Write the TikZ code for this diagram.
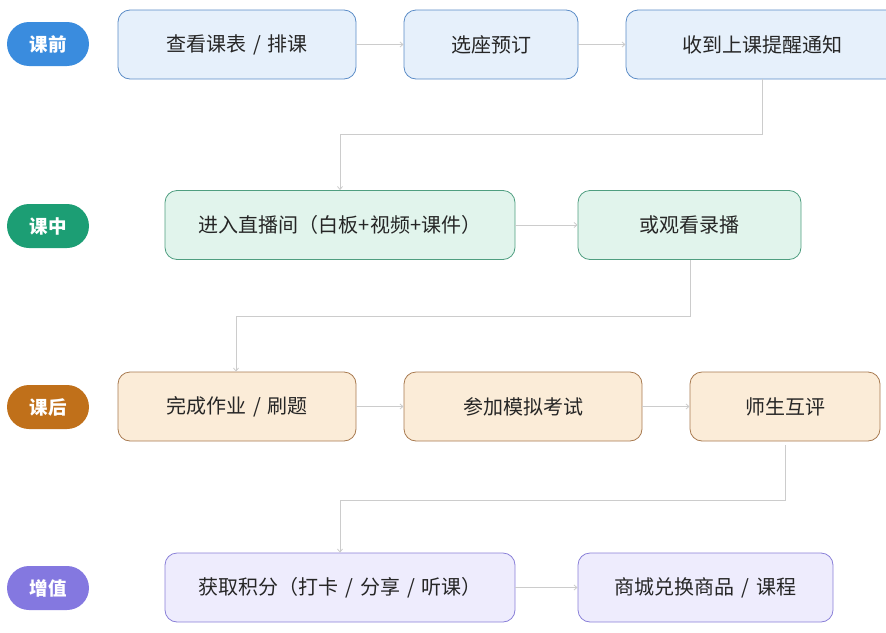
\documentclass[tikz,border=0pt]{standalone}
\usepackage{fontspec}
\setmainfont{Noto Sans CJK SC}
\usetikzlibrary{arrows.meta}
\definecolor{bluep}{HTML}{3A8CDE}
\definecolor{bluef}{HTML}{E6F0FB}
\definecolor{blueb}{HTML}{5B8CC7}
\definecolor{greenp}{HTML}{1C9E74}
\definecolor{greenf}{HTML}{E1F4EC}
\definecolor{greenb}{HTML}{4F9E80}
\definecolor{orangep}{HTML}{C0701A}
\definecolor{orangef}{HTML}{FBECD8}
\definecolor{orangeb}{HTML}{A87A50}
\definecolor{purplep}{HTML}{8478E0}
\definecolor{purplef}{HTML}{EEECFD}
\definecolor{purpleb}{HTML}{8A80D8}
\definecolor{conn}{HTML}{CCCCCC}
\definecolor{txt}{HTML}{262626}
\newcommand{\myslash}{\hspace{0.35em}/\hspace{0.35em}}
\begin{document}
\begin{tikzpicture}[x=1pt,y=-1pt,
  pill/.style={rounded corners=22pt,minimum width=82pt,minimum height=44pt,inner sep=0pt,text=white,font=\fontsize{18.5}{22}\selectfont\bfseries},
  box/.style={rounded corners=12pt,minimum height=69pt,inner sep=0pt,text=txt,line width=0.8pt,font=\fontsize{20}{24}\selectfont},
  bbox/.style={box,fill=bluef,draw=blueb},
  gbox/.style={box,fill=greenf,draw=greenb},
  obox/.style={box,fill=orangef,draw=orangeb},
  pbox/.style={box,fill=purplef,draw=purpleb},
  arr/.style={draw=conn,line width=0.8pt,-{Straight Barb[length=3pt,width=5pt]}}
]
\useasboundingbox (0,0) rectangle (886,632);
\begin{scope}
\clip (0,0) rectangle (886,632);
% pills
\node[pill,fill=bluep] (p1) at (48,44) {课前};
\node[pill,fill=greenp] (p2) at (48,226) {课中};
\node[pill,fill=orangep] (p3) at (48,407) {课后};
\node[pill,fill=purplep] (p4) at (48,588) {增值};
% row 1
\node[bbox,minimum width=238pt] (a1) at (237,44.5) {查看课表\myslash 排课};
\node[bbox,minimum width=174pt] (a2) at (491,44.5) {选座预订};
\node[bbox,minimum width=272pt] (a3) at (762,44.5) {收到上课提醒通知};
% row 2
\node[gbox,minimum width=350pt] (b1) at (340,225) {进入直播间（白板+视频+课件）};
\node[gbox,minimum width=223pt] (b2) at (689.5,225) {或观看录播};
% row 3
\node[obox,minimum width=238pt] (c1) at (237,406.5) {完成作业\myslash 刷题};
\node[obox,minimum width=238pt] (c2) at (523,406.5) {参加模拟考试};
\node[obox,minimum width=190pt] (c3) at (785,406.5) {师生互评};
% row 4
\node[pbox,minimum width=350pt] (d1) at (340,587.5) {获取积分（打卡\myslash 分享\myslash 听课）};
\node[pbox,minimum width=255pt] (d2) at (705.5,587.5) {商城兑换商品\myslash 课程};
% connectors
\draw[arr] (a1) -- (a2);
\draw[arr] (a2) -- (a3);
\draw[arr] (a3.south) -- (762,134) -- (340,134) -- (b1.north);
\draw[arr] (b2.south -| 690,0) -- (690,316) -- (236,316) -- (c1.north -| 236,0);
\draw[arr] (b1) -- (b2);
\draw[arr] (c1) -- (c2);
\draw[arr] (c2) -- (c3);
\draw[arr] ([yshift=-4pt]c3.south) -- (785,500) -- (340,500) -- (d1.north);
\draw[arr] (d1) -- (d2);
\end{scope}
\end{tikzpicture}
\end{document}
